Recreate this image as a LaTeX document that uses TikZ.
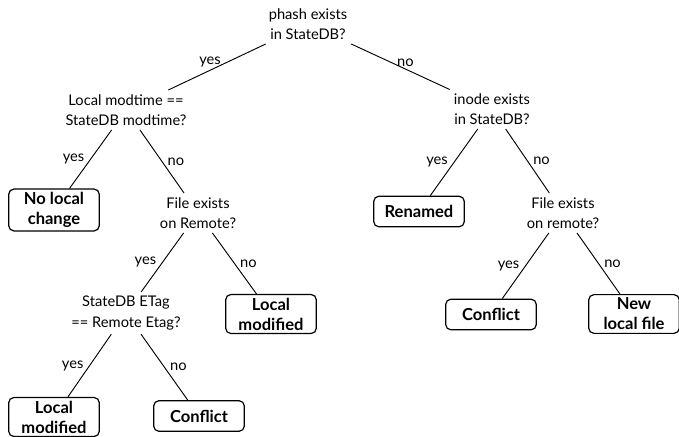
\documentclass[tikz,border=0pt]{standalone}
\usepackage{fontspec}
\setmainfont{Lato}
\begin{document}
\begin{tikzpicture}[x=0.75pt,y=-0.75pt,
  question/.style={align=center, font=\fontsize{11}{15.4}\selectfont, inner sep=3pt},
  outcome/.style={draw, rounded corners=4pt, line width=0.9pt, align=center,
    font=\fontsize{12.4}{15}\selectfont\bfseries, minimum width=68pt,
    minimum height=23pt, inner sep=2.5pt},
  conn/.style={line width=0.7pt},
  lbl/.style={midway, font=\fontsize{11}{13}\selectfont, inner sep=0pt},
  yeslbl/.style={lbl, xshift=-12.75pt},
  nolbl/.style={lbl, xshift=10.5pt}]
\useasboundingbox (0,0) rectangle (679,436);

% decision nodes
\node[question] (root) at (308,24) {phash exists\\in StateDB?};
\node[question] (lmod) at (126,110) {Local modtime ==\\StateDB modtime?};
\node[question] (inode) at (492,109) {inode exists\\in StateDB?};
\node[question] (fer) at (198,213) {File exists\\on Remote?};
\node[question] (fe2) at (563,213) {File exists\\on remote?};
\node[question] (etag) at (126,313) {StateDB ETag\\== Remote Etag?};

% outcomes
\node[outcome] (nolocal) at (54,210) {No local\\change};
\node[outcome] (renamed) at (419,211.5) {Renamed};
\node[outcome] (locmodA) at (271,314) {Local\\modified};
\node[outcome] (conflA) at (491,314.5) {Conflict};
\node[outcome] (newfile) at (634,314) {New\\local file};
\node[outcome] (locmodB) at (54,417) {Local\\modified};
\node[outcome] (conflB) at (199,416) {Conflict};

% connectors
\draw[conn] (root) -- (lmod) node[lbl, xshift=-5.25pt, yshift=3.75pt] {yes};
\draw[conn] (root) -- (inode) node[lbl, xshift=3.75pt, yshift=3pt] {no};
\draw[conn] (lmod) -- (nolocal) node[yeslbl] {yes};
\draw[conn] (lmod) -- (fer) node[nolbl] {no};
\draw[conn] (fer) -- (etag) node[yeslbl] {yes};
\draw[conn] (fer) -- (locmodA) node[nolbl] {no};
\draw[conn] (etag) -- (locmodB) node[yeslbl] {yes};
\draw[conn] (etag) -- (conflB) node[nolbl] {no};
\draw[conn] (inode) -- (renamed) node[yeslbl] {yes};
\draw[conn] (inode) -- (fe2) node[nolbl] {no};
\draw[conn] (fe2) -- (conflA) node[yeslbl] {yes};
\draw[conn] (fe2) -- (newfile) node[nolbl] {no};
\end{tikzpicture}
\end{document}
